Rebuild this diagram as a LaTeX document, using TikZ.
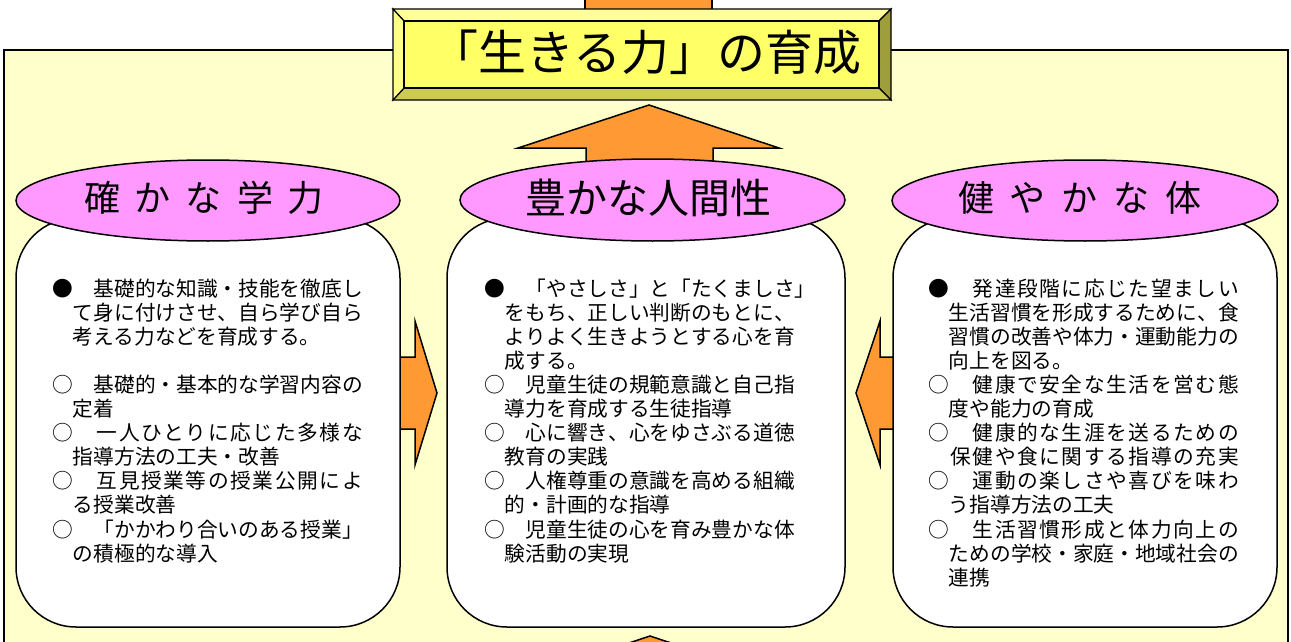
\documentclass[tikz,border=0pt]{standalone}
\usepackage{fontspec}
\setmainfont{Noto Sans CJK JP}
\definecolor{frameY}{HTML}{FFFFCC}
\definecolor{faceY}{HTML}{FFFF66}
\definecolor{topY}{HTML}{FFFF99}
\definecolor{leftY}{HTML}{FFFF85}
\definecolor{rightY}{HTML}{9E9E3D}
\definecolor{botY}{HTML}{CCCC55}
\definecolor{arrowO}{HTML}{FF9933}
\definecolor{pinkE}{HTML}{FF99FF}
\newcommand\jsA[1]{#1\jsB}
\newcommand\jsB[1]{\ifx\relax#1\else\hskip 0pt plus 1fil #1\expandafter\jsB\fi}
\newcommand\jl[1]{\leavevmode\hbox to 15em{\jsA#1\relax}}
\begin{document}
\begin{tikzpicture}[x=1pt,y=-1pt,line join=miter,
  bord/.style={draw=black,line width=1.5pt},
  arrowshape/.style={bord,fill=arrowO},
  whitebox/.style={bord,fill=white,rounded corners=60pt},
  pinkell/.style={bord,fill=pinkE},
  body/.style={inner sep=0pt,anchor=base west,align=left,text width=360pt,
    font=\fontsize{20.7}{24.1}\selectfont},
  headtext/.style={inner sep=0pt,anchor=center},
  bevel/.style={draw=black,line width=1.2pt}]
\useasboundingbox (0,0) rectangle (1291,642);
% outer frame
\path[bord,fill=frameY] (4,50) rectangle (1288,700);
% top arrow shaft going up
\path[arrowshape] (585,-5) rectangle (712,14);
% title box with bevel
\path[bevel,fill=topY] (393,9) -- (891,9) -- (879,21) -- (404,21) -- cycle;
\path[bevel,fill=rightY] (891,9) -- (891,100) -- (879,88) -- (879,21) -- cycle;
\path[bevel,fill=botY] (393,100) -- (891,100) -- (879,88) -- (404,88) -- cycle;
\path[bevel,fill=leftY] (393,9) -- (404,21) -- (404,88) -- (393,100) -- cycle;
\path[bevel,fill=faceY] (404,21) rectangle (879,88);
\node[headtext,font=\fontsize{48}{52}\selectfont] (title) at (646,52) {「生きる力」の育成};
% middle up arrow
\path[arrowshape] (586,230) -- (586,148) -- (518,148) -- (649,105) -- (779,148) -- (713,148) -- (713,230) -- cycle;
% bottom up arrow (tip only visible)
\path[arrowshape] (650,636) -- (780,679) -- (714,679) -- (714,720) -- (586,720) -- (586,679) -- (520,679) -- cycle;
% side arrows
\path[arrowshape] (395,357) -- (415,357) -- (415,321) -- (437,393) -- (415,465) -- (415,429) -- (395,429) -- cycle;
\path[arrowshape] (898,357) -- (880,357) -- (880,321) -- (856,393) -- (880,465) -- (880,429) -- (898,429) -- cycle;
% white boxes
\path[whitebox] (16,218) rectangle (400,627);
\path[whitebox] (447,218) rectangle (845,627);
\path[whitebox] (893,218) rectangle (1277,627);
% ellipses
\path[pinkell] (208,200.5) ellipse [x radius=192,y radius=40.5];
\path[pinkell] (652.5,200) ellipse [x radius=192.5,y radius=41];
\path[pinkell] (1085,200.5) ellipse [x radius=193,y radius=40.5];
\node[headtext,font=\fontsize{36}{40}\selectfont] (h1) at (204,198) {確\hspace{15pt}か\hspace{15pt}な\hspace{15pt}学\hspace{15pt}力};
\node[headtext,font=\fontsize{41}{44}\selectfont] (h2) at (648.5,198) {豊かな人間性};
\node[headtext,font=\fontsize{36}{40}\selectfont] (h3) at (1080,198) {健\hspace{16pt}や\hspace{16pt}か\hspace{16pt}な\hspace{16pt}体};
% body texts
\node[body] (t1) at (52,296) {%
\jl{●　基礎的な知識・技能を徹底し}\\
\jl{　て身に付けさせ、自ら学び自ら}\\
　考える力などを育成する。\\[24.1pt]
\jl{○　基礎的・基本的な学習内容の}\\
　定着\\
\jl{○　一人ひとりに応じた多様な}\\
　指導方法の工夫・改善\\
\jl{○　互見授業等の授業公開によ}\\
　る授業改善\\
\jl{○　「かかわり合いのある授業」}\\
　の積極的な導入};
\node[body] (t2) at (484,296) {%
●　「やさしさ」と「たくましさ」\\
\jl{　をもち、正しい判断のもとに、}\\
\jl{　よりよく生きようとする心を育}\\
　成する。\\
\jl{○　児童生徒の規範意識と自己指}\\
　導力を育成する生徒指導\\
\jl{○　心に響き、心をゆさぶる道徳}\\
　教育の実践\\
\jl{○　人権尊重の意識を高める組織}\\
　的・計画的な指導\\
\jl{○　児童生徒の心を育み豊かな体}\\
　験活動の実現};
\node[body] (t3) at (928,296) {%
\jl{●　発達段階に応じた望ましい}\\
\jl{　生活習慣を形成するために、食}\\
\jl{　習慣の改善や体力・運動能力の}\\
　向上を図る。\\
\jl{○　健康で安全な生活を営む態}\\
　度や能力の育成\\
\jl{○　健康的な生涯を送るための}\\
\jl{　保健や食に関する指導の充実}\\
\jl{○　運動の楽しさや喜びを味わ}\\
　う指導方法の工夫\\
\jl{○　生活習慣形成と体力向上の}\\
\jl{　ための学校・家庭・地域社会の}\\
　連携};
\end{tikzpicture}
\end{document}
